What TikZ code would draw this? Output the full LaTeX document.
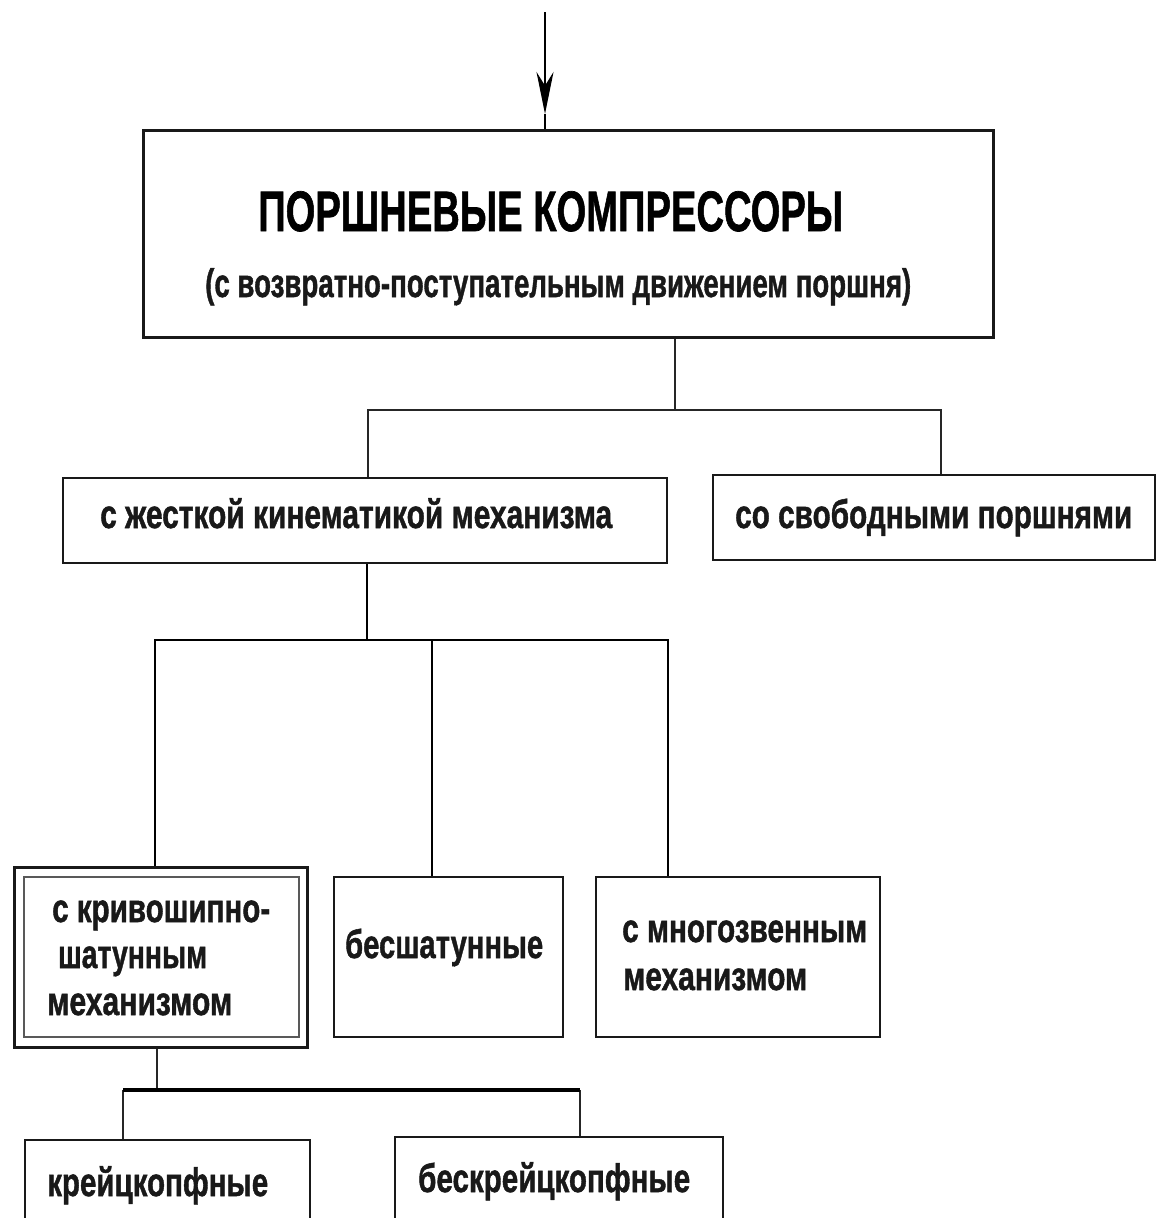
\documentclass[tikz,border=0pt]{standalone}
\usepackage{fontspec}
\setmainfont{Liberation Sans}[BoldFeatures={FakeBold=1.3}]
\usepackage{graphicx}
\usetikzlibrary{arrows.meta}
\newsavebox\fitbox
\newlength\fitlen
\newcommand\fitw[2]{\sbox\fitbox{#2}\setlength\fitlen{\wd\fitbox}\pgfmathsetmacro\fitr{#1/\fitlen}\scalebox{\fitr}[1]{\usebox\fitbox}}
\begin{document}
\begin{tikzpicture}[x=1pt,y=-1pt,
  box/.style={draw=black!90, line width=2.6pt, inner sep=0pt, fill=white},
  lbl/.style={inner sep=0pt, font=\fontsize{40pt}{47pt}\selectfont\bfseries, anchor=base west, text=black!90},
  ttl/.style={inner sep=0pt, font=\fontsize{57pt}{60pt}\selectfont\bfseries, anchor=base west, text=black},
  conn/.style={line width=2pt, draw=black!85},
  conntwo/.style={line width=2.6pt, draw=black}]
\clip (0,0) rectangle (1157,1218);
\fill[white] (0,0) rectangle (1157,1218);
% boxes
\node[box, line width=3pt, minimum width=850, minimum height=207] (main) at (568,233.5) {};
\node[box, minimum width=604, minimum height=85] (rigid) at (365,520.5) {};
\node[box, minimum width=442, minimum height=85] (free) at (934,517.5) {};
\node[box, line width=3pt, minimum width=293, minimum height=180] (crank) at (160.5,957) {};
\node[box, line width=1.8pt, draw=black!65, minimum width=275, minimum height=160] (crankin) at (161.5,957) {};
\node[box, minimum width=229, minimum height=160] (bes) at (448.5,957) {};
\node[box, minimum width=284, minimum height=160] (multi) at (738,957) {};
\node[box, minimum width=285, minimum height=110] (krz) at (167.5,1195) {};
\node[box, minimum width=328, minimum height=113] (beskr) at (559,1193.5) {};
% texts
\node[ttl] (t1) at (258,231) {\fitw{585}{ПОРШНЕВЫЕ КОМПРЕССОРЫ}};
\node[lbl] (t2) at (205,297) {\fitw{706}{(с возвратно-поступательным движением поршня)}};
\node[lbl] (trigid) at (100,528) {\fitw{512}{с жесткой кинематикой механизма}};
\node[lbl] (tfree) at (735,528) {\fitw{397}{со свободными поршнями}};
\node[lbl] (tc1) at (52,922) {\fitw{218}{с кривошипно-}};
\node[lbl] (tc2) at (58,968) {\fitw{149}{шатунным}};
\node[lbl] (tc3) at (47,1015) {\fitw{185}{механизмом}};
\node[lbl] (tbes) at (345,958) {\fitw{198}{бесшатунные}};
\node[lbl] (tm1) at (622,942) {\fitw{245}{с многозвенным}};
\node[lbl] (tm2) at (623,990) {\fitw{184}{механизмом}};
\node[lbl] (tkrz) at (47,1196) {\fitw{221}{крейцкопфные}};
\node[lbl] (tbeskr) at (418,1192) {\fitw{272}{бескрейцкопфные}};
% input arrow
\coordinate (a0) at (545,12);
\coordinate (a1) at (545,114);
\draw[line width=2.5pt, -{Stealth[length=42pt,width=17pt]}] (a0) -- (a1);
\draw[line width=2.5pt] (a1) -- (main.north -| a1);
% level 1
\coordinate (j1) at (675,410);
\coordinate (b1l) at (368,410);
\coordinate (b1r) at (941,410);
\draw[conn] (main.south -| j1) -- (j1);
\draw[conn] (rigid.north -| b1l) |- (b1r) -- (free.north -| b1r);
% level 2
\coordinate (j2) at (367,640);
\coordinate (b2l) at (155,640);
\coordinate (b2m) at (432,640);
\coordinate (b2r) at (668,640);
\draw[conntwo] (rigid.south -| j2) -- (j2);
\draw[conntwo] (crank.north -| b2l) |- (b2r) -- (multi.north -| b2r);
\draw[conntwo] (b2m) -- (bes.north -| b2m);
% level 3
\coordinate (j3) at (157,1090);
\coordinate (b3l) at (123,1090);
\coordinate (b3r) at (580,1090);
\draw[conn] (crank.south -| j3) -- (j3);
\draw[conn] (krz.north -| b3l) -- (b3l);
\draw[conn] (beskr.north -| b3r) -- (b3r);
\draw[line width=3.5pt] (b3l) -- (b3r);
\end{tikzpicture}
\end{document}
